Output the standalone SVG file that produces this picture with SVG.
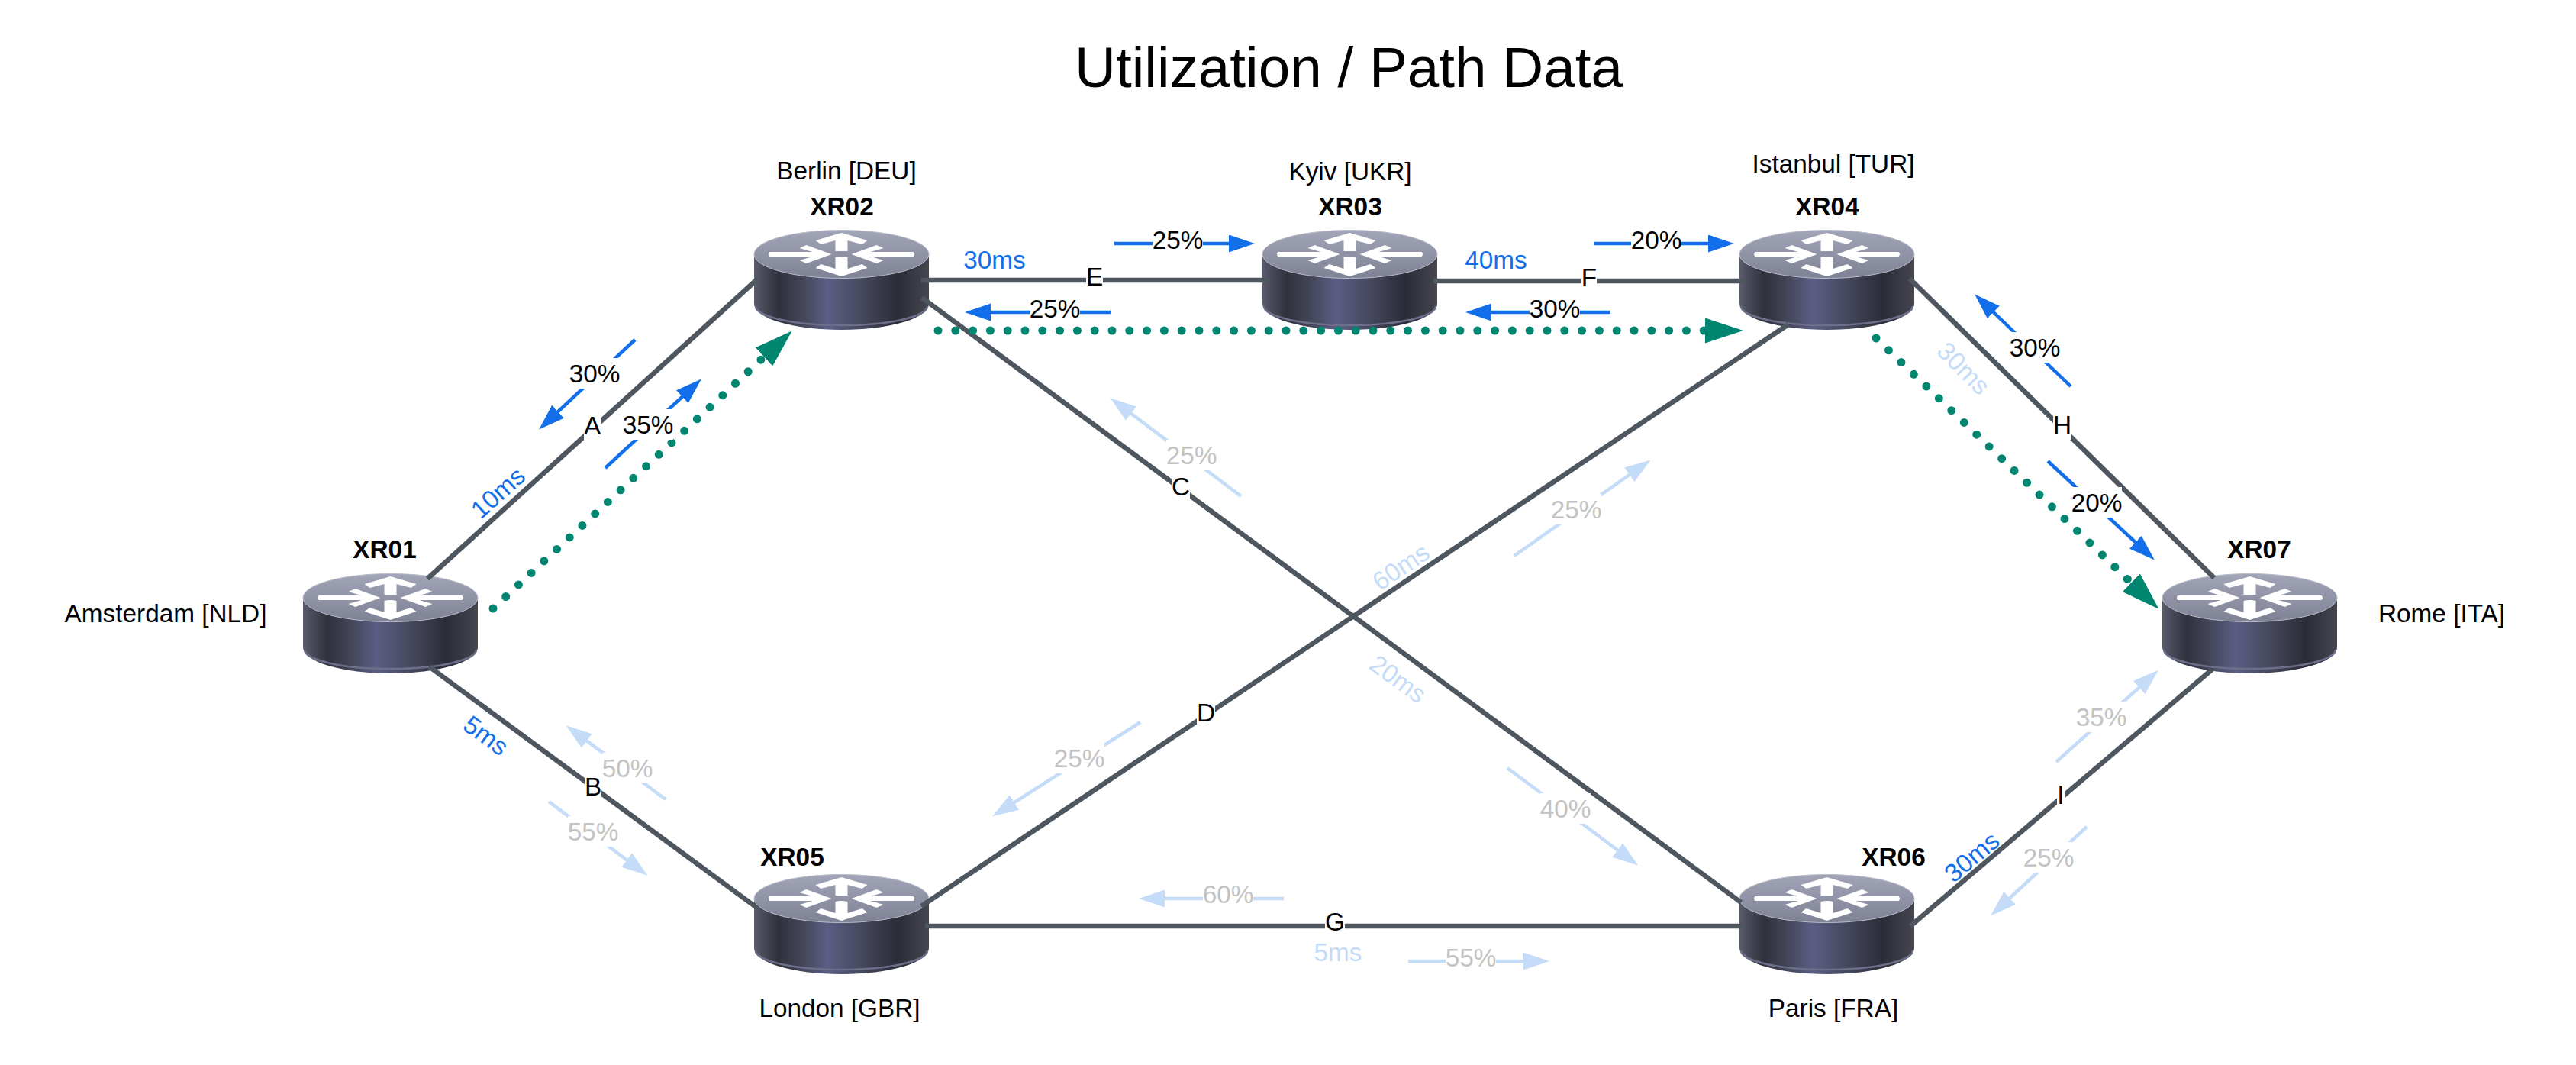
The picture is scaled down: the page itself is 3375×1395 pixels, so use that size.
<svg xmlns="http://www.w3.org/2000/svg" width="3375" height="1395" viewBox="0 0 3375 1395">
<style>
text{font-family:"Liberation Sans",Arial,sans-serif;font-size:33.33px;text-anchor:middle;fill:#000}
.title{font-size:74.67px}
.host{font-weight:bold}
.ms{fill:#126fe9}
.msp{fill:#c5dcf8}
.dim{fill:#c3c3c3}
.link{stroke:#4e5660;stroke-width:6.5;fill:none}
.u{stroke:#126fe9;stroke-width:4.5;fill:none;marker-end:url(#ah)}
.p{stroke:#c5dcf8;stroke-width:4.5;fill:none;marker-end:url(#ahp)}
.path{stroke:#008571;stroke-width:11;stroke-linecap:round;stroke-dasharray:0 22.8;fill:none;marker-end:url(#ahg)}
.bg{fill:#fff}
</style>
<defs>
<marker id="ah" markerUnits="userSpaceOnUse" markerWidth="36" markerHeight="24" refX="26" refY="11.5" orient="auto"><path d="M0,0L34,11.5L0,23Z" fill="#126fe9"/></marker>
<marker id="ahp" markerUnits="userSpaceOnUse" markerWidth="36" markerHeight="24" refX="26" refY="11.5" orient="auto"><path d="M0,0L34,11.5L0,23Z" fill="#c5dcf8"/></marker>
<marker id="ahg" markerUnits="userSpaceOnUse" markerWidth="52" markerHeight="34" refX="30" refY="16.5" orient="auto"><path d="M0,0L50,16.5L0,33Z" fill="#008571"/></marker>
<linearGradient id="side" x1="0" x2="1" y1="0" y2="0">
<stop offset="0" stop-color="#5c5d6c"/><stop offset=".05" stop-color="#4a4b5a"/><stop offset=".14" stop-color="#30313c"/><stop offset=".27" stop-color="#434558"/><stop offset=".42" stop-color="#5b5e84"/><stop offset=".6" stop-color="#484a60"/><stop offset=".82" stop-color="#2b2c37"/><stop offset="1" stop-color="#45464f"/>
</linearGradient>
<linearGradient id="top" x1="0" x2="0" y1="0" y2="1">
<stop offset="0" stop-color="#a2a5b7"/><stop offset="1" stop-color="#7f8294"/>
</linearGradient>
<g id="router">
<path d="M0,31V96A114.5,34 0 0 0 229,96V31Z" fill="url(#side)"/>
<path d="M2,99A112.5,25 0 0 0 227,99" fill="none" stroke="#6d6f8a" stroke-width="2.5"/>
<ellipse cx="114.5" cy="31" rx="114.5" ry="31.5" fill="url(#top)" stroke="#b9bbc8" stroke-width="1"/>
<g transform="translate(114.5,31)" fill="#fff">
<path d="M0,-28L34,-18L27,-13L8,-18V-4H-8V-18L-27,-13L-34,-18Z"/>
<path d="M-8,4Q0,2 8,4V19L27,13L34,18L0,29L-34,18L-27,13L-8,19Z"/>
<path d="M-94,-3H-38L-55,-8L-46,-12L-13,0L-46,12L-55,8L-38,3H-94Q-97,0 -94,-3Z"/>
<path d="M94,-3H38L55,-8L46,-12L13,0L46,12L55,8L38,3H94Q97,0 94,-3Z"/>
</g>
</g>
</defs>
<rect width="3375" height="1395" fill="#fff"/>
<text class="title" x="1767" y="114">Utilization / Path Data</text>
<g id="XR01"><use href="#router" x="397" y="752"/><text class="host" x="504" y="731">XR01</text><text x="217" y="815">Amsterdam [NLD]</text></g>
<g id="XR02"><use href="#router" x="988" y="302"/><text class="host" x="1103" y="282">XR02</text><text x="1109" y="235">Berlin [DEU]</text></g>
<g id="XR03"><use href="#router" x="1654" y="302"/><text class="host" x="1769" y="282">XR03</text><text x="1769" y="236">Kyiv [UKR]</text></g>
<g id="XR04"><use href="#router" x="2279" y="302"/><text class="host" x="2394" y="282">XR04</text><text x="2402" y="226">Istanbul [TUR]</text></g>
<g id="XR05"><use href="#router" x="988" y="1146"/><text class="host" x="1038" y="1134">XR05</text><text x="1100" y="1332">London [GBR]</text></g>
<g id="XR06"><use href="#router" x="2279" y="1146"/><text class="host" x="2481" y="1134">XR06</text><text x="2402" y="1332">Paris [FRA]</text></g>
<g id="XR07"><use href="#router" x="2833" y="752"/><text class="host" x="2960" y="731">XR07</text><text x="3199" y="815">Rome [ITA]</text></g>
<g id="connectors">
<g id="links">
<path class="link" d="M560,758L993,365"/>
<path class="link" d="M562,873L993,1190"/>
<path class="link" d="M1208,390L2281,1182"/>
<path class="link" d="M2343,425L1207,1187"/>
<path class="link" d="M1207,367H1660"/>
<path class="link" d="M1878,368H2287"/>
<path class="link" d="M1212,1213H2285"/>
<path class="link" d="M2502,365L2901,757"/>
<path class="link" d="M2503,1213L2898,877"/>
</g>
<g id="paths">
<path class="path" d="M646,797L1023,447"/>
<path class="path" d="M1229,433H2264"/>
<path class="path" d="M2458,443L2814,784"/>
</g>
<g id="traffic">
<path class="u" d="M832,445L712,557"/>
<path class="u" d="M793,613L913,502"/>
<path class="p" d="M872,1047L748,955"/>
<path class="p" d="M719,1050L842,1142"/>
<path class="p" d="M1626,650L1461,526"/>
<path class="p" d="M1975,1006L2140,1129"/>
<path class="p" d="M1984,728L2156,607"/>
<path class="p" d="M1494,946L1307,1065"/>
<path class="u" d="M1460,319H1636"/>
<path class="u" d="M1455,409H1272"/>
<path class="u" d="M2088,319H2264"/>
<path class="u" d="M2110,409H1928"/>
<path class="p" d="M1682,1177H1500"/>
<path class="p" d="M1845,1259H2022"/>
<path class="u" d="M2713,506L2593,391"/>
<path class="u" d="M2683,604L2817,728"/>
<path class="p" d="M2694,998L2822,883"/>
<path class="p" d="M2734,1083L2614,1194"/>
</g>
<g id="link-labels">
<rect class="bg" x="765" y="537" width="22" height="40"/><text x="776" y="569">A</text>
<rect class="bg" x="766" y="1010" width="22" height="40"/><text x="777" y="1042">B</text>
<rect class="bg" x="1535" y="617" width="24" height="40"/><text x="1547" y="649">C</text>
<rect class="bg" x="1568" y="913" width="24" height="40"/><text x="1580" y="945">D</text>
<rect class="bg" x="1423" y="342" width="22" height="40"/><text x="1434" y="374">E</text>
<rect class="bg" x="2072" y="343" width="20" height="40"/><text x="2082" y="375">F</text>
<rect class="bg" x="1736" y="1187" width="26" height="40"/><text x="1749" y="1219">G</text>
<rect class="bg" x="2690" y="536" width="24" height="40"/><text x="2702" y="568">H</text>
<rect class="bg" x="2695" y="1021" width="10" height="40"/><text x="2700" y="1053">I</text>
</g>
<g id="load-labels">
<rect class="bg" x="746" y="469" width="66" height="40"/><text x="779" y="501">30%</text>
<rect class="bg" x="816" y="536" width="66" height="40"/><text x="849" y="568">35%</text>
<rect class="bg" x="789" y="986" width="66" height="40"/><text class="dim" x="822" y="1018">50%</text>
<rect class="bg" x="744" y="1069" width="66" height="40"/><text class="dim" x="777" y="1101">55%</text>
<rect class="bg" x="1528" y="576" width="66" height="40"/><text class="dim" x="1561" y="608">25%</text>
<rect class="bg" x="2018" y="1039" width="66" height="40"/><text class="dim" x="2051" y="1071">40%</text>
<rect class="bg" x="2032" y="647" width="66" height="40"/><text class="dim" x="2065" y="679">25%</text>
<rect class="bg" x="1381" y="973" width="66" height="40"/><text class="dim" x="1414" y="1005">25%</text>
<rect class="bg" x="1510" y="294" width="66" height="40"/><text x="1543" y="326">25%</text>
<rect class="bg" x="1349" y="384" width="66" height="40"/><text x="1382" y="416">25%</text>
<rect class="bg" x="2137" y="294" width="66" height="40"/><text x="2170" y="326">20%</text>
<rect class="bg" x="2004" y="384" width="66" height="40"/><text x="2037" y="416">30%</text>
<rect class="bg" x="1576" y="1151" width="66" height="40"/><text class="dim" x="1609" y="1183">60%</text>
<rect class="bg" x="1894" y="1234" width="66" height="40"/><text class="dim" x="1927" y="1266">55%</text>
<rect class="bg" x="2633" y="435" width="66" height="40"/><text x="2666" y="467">30%</text>
<rect class="bg" x="2714" y="638" width="66" height="40"/><text x="2747" y="670">20%</text>
<rect class="bg" x="2720" y="919" width="66" height="40"/><text class="dim" x="2753" y="951">35%</text>
<rect class="bg" x="2651" y="1103" width="66" height="40"/><text class="dim" x="2684" y="1135">25%</text>
</g>
<g id="latency-labels">
<text class="ms" x="652" y="657" transform="rotate(-42 652 645)">10ms</text>
<text class="ms" x="637" y="975" transform="rotate(36 637 963)">5ms</text>
<text class="ms" x="1303" y="352">30ms</text>
<text class="ms" x="1960" y="352">40ms</text>
<text class="ms" x="2583" y="1134" transform="rotate(-40 2583 1122)">30ms</text>
<text class="msp" x="2573" y="494" transform="rotate(45 2573 482)">30ms</text>
<text class="msp" x="1832" y="901" transform="rotate(36 1832 889)">20ms</text>
<text class="msp" x="1835" y="754" transform="rotate(-34 1835 742)">60ms</text>
<text class="msp" x="1753" y="1259">5ms</text>
</g>
</g>
</svg>
